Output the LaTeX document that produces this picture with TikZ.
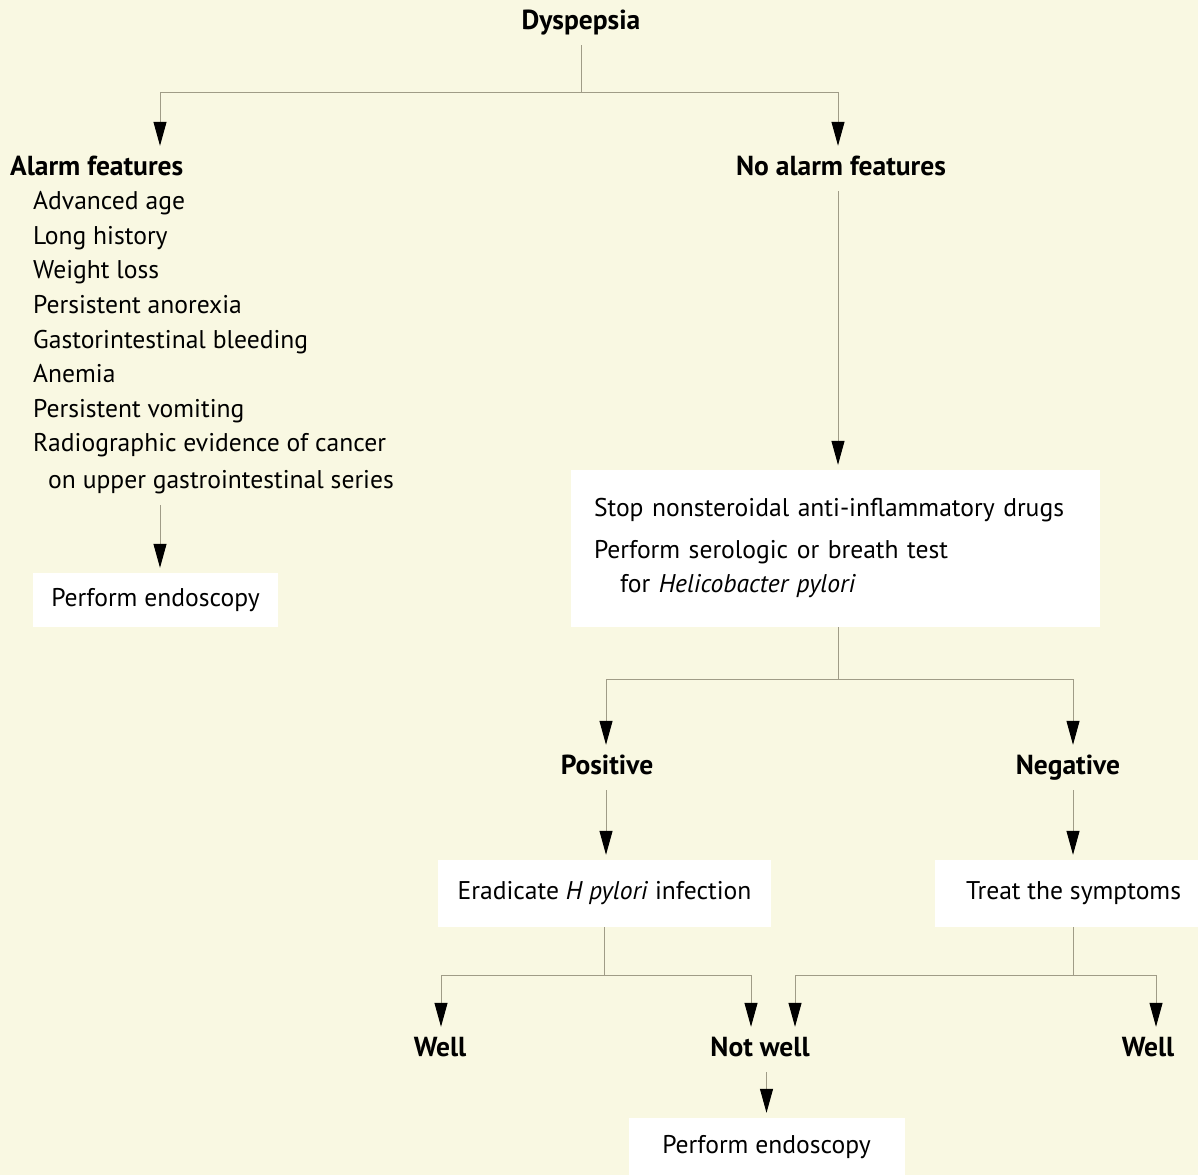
\documentclass[tikz,border=0pt]{standalone}
\usepackage{fontspec}
\setmainfont{PT Sans}
\usetikzlibrary{arrows.meta}
\definecolor{paper}{RGB}{249,248,226}
\definecolor{wire}{RGB}{160,156,135}

\begin{document}
\begin{tikzpicture}[x=1pt,y=-1pt,
    link/.style={draw=wire,line width=1pt},
    arr/.style={link,-{Triangle[width=13pt,length=24pt,color=black]}},
    tobox/.style={shorten >=5pt},
    head/.style={font=\fontsize{27.5}{30}\selectfont\bfseries,anchor=base,
      text height=19pt,text depth=6pt,inner xsep=2pt,inner ysep=10pt},
    item/.style={font=\fontsize{25.6}{30}\selectfont,anchor=base west,inner sep=0pt},
    box/.style={fill=white,font=\fontsize{25.6}{34}\selectfont,inner sep=0pt}]
  %\draw[help lines,step=50] (0,0) grid (1198,1175);
  \fill[paper] (0,0) rectangle (1198,1175);
  \useasboundingbox (0,0) rectangle (1198,1175);

  \node[head] (dys) at (581,29) {Dyspepsia};
  \node[head,anchor=base west] (alarm) at (8,175) {Alarm features};
  \node[head] (noalarm) at (841,175) {No alarm features};

  % alarm features list
  \foreach \txt [count=\i] in {Advanced age, Long history, Weight loss,
      Persistent anorexia, Gastorintestinal bleeding, Anemia,
      Persistent vomiting, Radiographic evidence of cancer} {
    \node[item] (f\i) at (33,175+34.6*\i) {\txt};
  }
  \node[item] (f9) at (48,488) {on upper gastrointestinal series};

  \node[box,minimum width=245pt,minimum height=54pt] (endo1) at (155.5,600) {Perform endoscopy};
  \node[box,text width=483pt,inner xsep=23pt,minimum height=157pt,align=left] (test) at (835.5,548.5)
    {Stop nonsteroidal anti-inflammatory drugs\\[8pt]
     Perform serologic or breath test\\
     \hspace*{26pt}for \textit{Helicobacter pylori}};

  \node[head] (pos) at (607,774) {Positive};
  \node[head] (neg) at (1068,774) {Negative};

  \node[box,minimum width=333pt,minimum height=67pt] (erad) at (604.5,893.5)
    {Eradicate \textit{H pylori} infection};
  \node[box,minimum width=277pt,minimum height=67pt] (treat) at (1073.5,893.5) {Treat the symptoms};

  \node[head] (well1) at (440,1056) {Well};
  \node[head] (notwell) at (760,1056) {Not well};
  \node[head] (well2) at (1148,1056) {Well};

  \node[box,minimum width=276pt,minimum height=58pt] (endo2) at (766.5,1147) {Perform endoscopy};

  % junctions
  \coordinate (j0) at (581,92);
  \coordinate (j0l) at (160,92);
  \coordinate (j0r) at (838,92);
  \coordinate (ja) at (160,505);
  \coordinate (j1) at (838,679);
  \coordinate (j1l) at (606,679);
  \coordinate (j1r) at (1073,679);
  \coordinate (j2) at (604,975);
  \coordinate (j2l) at (441,975);
  \coordinate (j2r) at (751,975);
  \coordinate (j3) at (1073,975);
  \coordinate (j3l) at (795,975);
  \coordinate (j3r) at (1156,975);

  \draw[link] (dys.south -| j0) -- (j0);
  \draw[link] (j0l) -- (j0r);
  \draw[arr] (j0l) -- (j0l |- alarm.north);
  \draw[arr] (j0r) -- (j0r |- noalarm.north);
  \draw[arr,tobox] (ja) -- (ja |- endo1.north);
  \draw[arr,tobox] (noalarm.south -| j0r) -- (j0r |- test.north);

  \draw[link] (test.south -| j1) -- (j1);
  \draw[link] (j1l) -- (j1r);
  \draw[arr] (j1l) -- (j1l |- pos.north);
  \draw[arr] (j1r) -- (j1r |- neg.north);
  \draw[arr,tobox] (pos.south -| j1l) -- (j1l |- erad.north);
  \draw[arr,tobox] (neg.south -| j1r) -- (j1r |- treat.north);

  \draw[link] (erad.south -| j2) -- (j2);
  \draw[link] (j2l) -- (j2r);
  \draw[arr] (j2l) -- (j2l |- well1.north);
  \draw[arr] (j2r) -- (j2r |- notwell.north);
  \draw[link] (treat.south -| j3) -- (j3);
  \draw[link] (j3l) -- (j3r);
  \draw[arr] (j3l) -- (j3l |- notwell.north);
  \draw[arr] (j3r) -- (j3r |- well2.north);

  \draw[arr,tobox] (notwell.south -| endo2.north) -- (endo2.north);
\end{tikzpicture}
\end{document}
